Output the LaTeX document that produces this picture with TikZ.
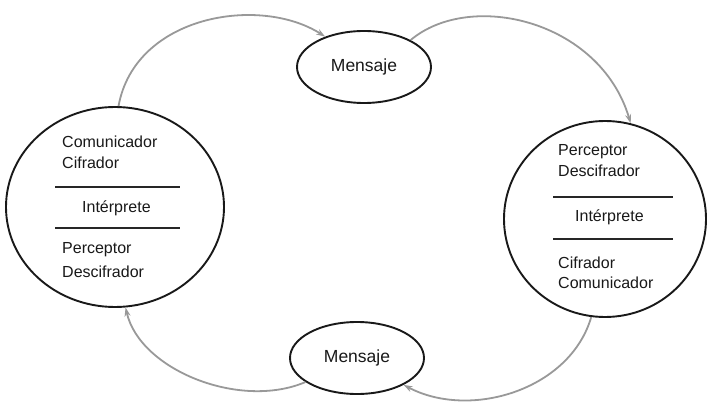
\documentclass[tikz,border=0pt]{standalone}
\usepackage{fontspec}
\setmainfont{Liberation Sans}
\usetikzlibrary{shapes.geometric,arrows.meta}
\begin{document}
\begin{tikzpicture}[x=1pt,y=-1pt,
  bigcirc/.style={draw=black!90,line width=1.9pt,ellipse,inner sep=0pt},
  msg/.style={draw=black!90,line width=1.9pt,ellipse,inner sep=0pt,minimum width=134pt,minimum height=72pt,font=\fontsize{17.5}{19}\selectfont,text=black!90},
  txt/.style={anchor=west,inner sep=0pt,font=\fontsize{16}{18}\selectfont,text=black!90},
  sep/.style={draw=black!85,line width=1.3pt},
  flow/.style={draw=black!40,line width=1.8pt,-{Stealth[length=9pt,width=6pt]}}]
\useasboundingbox (0,0) rectangle (709,403);
\fill[white] (0,0) rectangle (709,403);
% circles
\node[bigcirc,minimum width=218pt,minimum height=200pt] (L) at (115,207) {};
\node[bigcirc,minimum width=202pt,minimum height=196pt] (R) at (605,219) {};
% messages
\node[msg] (M1) at (364,67) {Mensaje};
\node[msg] (M2) at (357,358) {Mensaje};
% left circle text
\node[txt] (l1) at (62,142) {Comunicador};
\node[txt] (l2) at (62,163) {Cifrador};
\node[txt] (l3) at (82,208) {Intérprete};
\node[txt] (l4) at (62,250) {Perceptor};
\node[txt] (l5) at (62,272) {Descifrador};
\coordinate (la1) at (55,187); \coordinate (lb1) at (180,187);
\coordinate (la2) at (55,228); \coordinate (lb2) at (180,228);
\draw[sep] (la1) -- (lb1);
\draw[sep] (la2) -- (lb2);
% right circle text
\node[txt] (r1) at (558,152) {Perceptor};
\node[txt] (r2) at (558,171) {Descifrador};
\node[txt] (r3) at (575,217) {Intérprete};
\node[txt] (r4) at (558,263) {Cifrador};
\node[txt] (r5) at (558,283) {Comunicador};
\coordinate (ra1) at (553,197); \coordinate (rb1) at (673,197);
\coordinate (ra2) at (553,239); \coordinate (rb2) at (673,239);
\draw[sep] (ra1) -- (rb1);
\draw[sep] (ra2) -- (rb2);
% flows
\draw[flow] (L.88) .. controls (135,15) and (260,-5) .. (M1.142);
\draw[flow] (M1.30) .. controls (470,-10) and (600,20) .. (R.75);
\draw[flow] (R.262) .. controls (570,390) and (470,420) .. (M2.330);
\draw[flow] (M2.205) .. controls (240,410) and (140,370) .. (L.276);
\end{tikzpicture}
\end{document}
